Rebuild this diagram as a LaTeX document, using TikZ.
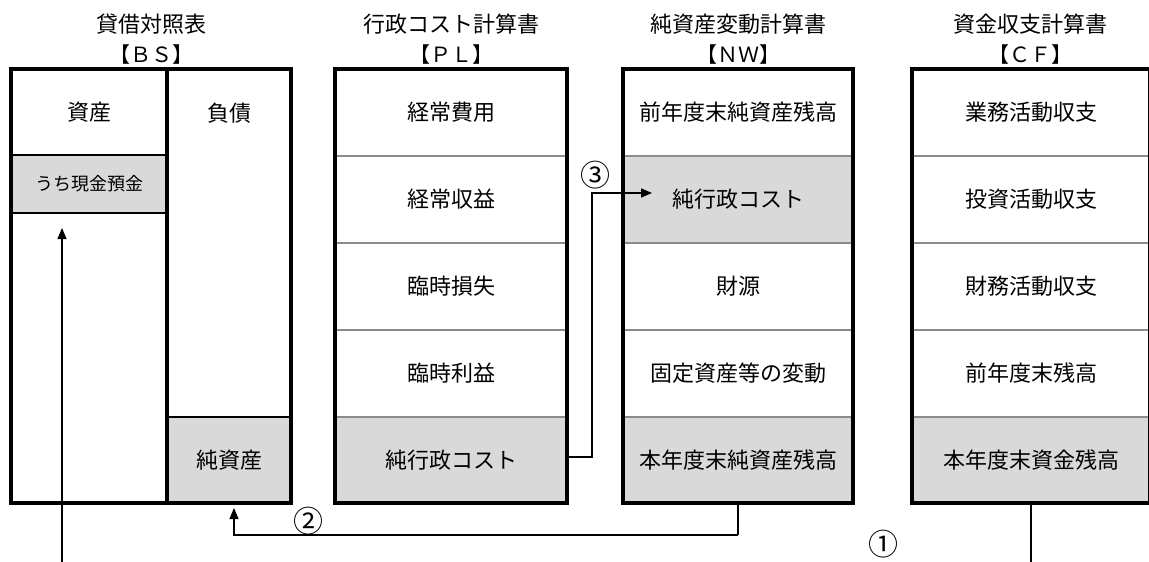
\documentclass[tikz,border=0pt]{standalone}
\usepackage{fontspec}
\setmainfont{Noto Sans CJK JP}
\usetikzlibrary{arrows.meta}
\definecolor{cellgray}{HTML}{D9D9D9}
\definecolor{divgray}{HTML}{8C8C8C}
\begin{document}
\begin{tikzpicture}[x=1pt,y=-1pt,
  cell/.style={inner sep=0pt, font=\fontsize{22}{26}\selectfont},
  shaded/.style={cell, fill=cellgray},
  frame/.style={draw=black, line width=3.8pt, inner sep=0pt},
  softdiv/.style={draw=divgray, line width=1.8pt},
  harddiv/.style={draw=black, line width=2.5pt},
  thickdiv/.style={draw=black, line width=3.8pt},
  title/.style={inner sep=0pt, font=\fontsize{22}{26}\selectfont},
  bracket/.style={inner sep=0pt, font=\fontsize{21}{24}\selectfont},
  conn/.style={draw=black, line width=1.3pt},
  tip/.style={-{Triangle[length=11pt,width=9pt]}},
  num/.style={inner sep=0pt, font=\fontsize{30}{34}\selectfont}]

\useasboundingbox (0,0) rectangle (1149,562);

% ---------- titles ----------
\node[title] (bst) at (151,24) {貸借対照表};
\node[bracket] (bsb) at (151,55) {【ＢＳ】};
\node[title] (plt) at (451,24) {行政コスト計算書};
\node[bracket] (plb) at (451,55) {【ＰＬ】};
\node[title] (nwt) at (738,24) {純資産変動計算書};
\node[bracket] (nwb) at (738,55) {【ＮＷ】};
\node[title] (cft) at (1030,24) {資金収支計算書};
\node[bracket] (cfb) at (1030,55) {【ＣＦ】};

% ---------- BS ----------
\node[cell, minimum width=156pt, minimum height=86pt] (bs1) at (89,112) {資産};
\node[shaded, minimum width=156pt, minimum height=58pt] (bs2) at (89,184) {\fontsize{18}{22}\selectfont うち現金預金};
\node[cell, minimum width=156pt, minimum height=290pt] (bs3) at (89,358) {};
\node[cell, minimum width=124pt, minimum height=348pt] (bs4) at (229,243) {};
\node[cell] (bs4t) at (229,113) {負債};
\node[shaded, minimum width=124pt, minimum height=86pt] (bs5) at (229,460) {純資産};
\draw[harddiv] (bs2.north west) -- (bs2.north east);
\draw[harddiv] (bs2.south west) -- (bs2.south east);
\draw[harddiv] (bs5.north west) -- (bs5.north east);
\node[frame, minimum width=280pt, minimum height=434pt] (bs) at (151,286) {};
\draw[thickdiv] (bs.north -| bs5.west) -- (bs.south -| bs5.west);

% ---------- PL ----------
\node[cell, minimum width=232pt, minimum height=87pt] (pl1) at (451,112.5) {経常費用};
\node[cell, minimum width=232pt, minimum height=87pt] (pl2) at (451,199.5) {経常収益};
\node[cell, minimum width=232pt, minimum height=87pt] (pl3) at (451,286.5) {臨時損失};
\node[cell, minimum width=232pt, minimum height=87pt] (pl4) at (451,373.5) {臨時利益};
\node[shaded, minimum width=232pt, minimum height=86pt] (pl5) at (451,460) {純行政コスト};
\draw[softdiv] (pl2.north west) -- (pl2.north east);
\draw[softdiv] (pl3.north west) -- (pl3.north east);
\draw[softdiv] (pl4.north west) -- (pl4.north east);
\draw[softdiv] (pl5.north west) -- (pl5.north east);
\node[frame, minimum width=232pt, minimum height=434pt] (pl) at (451,286) {};

% ---------- NW ----------
\node[cell, minimum width=230pt, minimum height=87pt] (nw1) at (738,112.5) {前年度末純資産残高};
\node[shaded, minimum width=230pt, minimum height=87pt] (nw2) at (738,199.5) {純行政コスト};
\node[cell, minimum width=230pt, minimum height=87pt] (nw3) at (738,286.5) {財源};
\node[cell, minimum width=230pt, minimum height=87pt] (nw4) at (738,373.5) {固定資産等の変動};
\node[shaded, minimum width=230pt, minimum height=86pt] (nw5) at (738,460) {本年度末純資産残高};
\draw[softdiv] (nw2.north west) -- (nw2.north east);
\draw[softdiv] (nw3.north west) -- (nw3.north east);
\draw[softdiv] (nw4.north west) -- (nw4.north east);
\draw[softdiv] (nw5.north west) -- (nw5.north east);
\node[frame, minimum width=230pt, minimum height=434pt] (nw) at (738,286) {};

% ---------- CF ----------
\node[cell, minimum width=238pt, minimum height=87pt] (cf1) at (1031,112.5) {業務活動収支};
\node[cell, minimum width=238pt, minimum height=87pt] (cf2) at (1031,199.5) {投資活動収支};
\node[cell, minimum width=238pt, minimum height=87pt] (cf3) at (1031,286.5) {財務活動収支};
\node[cell, minimum width=238pt, minimum height=87pt] (cf4) at (1031,373.5) {前年度末残高};
\node[shaded, minimum width=238pt, minimum height=86pt] (cf5) at (1031,460) {本年度末資金残高};
\draw[softdiv] (cf2.north west) -- (cf2.north east);
\draw[softdiv] (cf3.north west) -- (cf3.north east);
\draw[softdiv] (cf4.north west) -- (cf4.north east);
\draw[softdiv] (cf5.north west) -- (cf5.north east);
\node[frame, minimum width=238pt, minimum height=434pt] (cf) at (1031,286) {};

% ---------- connectors ----------
% (3) PL net cost -> NW net cost
\coordinate (c3bend) at (592,457);
\coordinate (c3tip) at (652,193);
\draw[conn,tip] (c3bend -| pl.east) -- (c3bend) |- (c3tip);
\node[num] (n3) at (595,175) {③};

% (2) NW closing balance -> BS net assets
\coordinate (c2low) at (738,535);
\coordinate (c2tip) at (234,508);
\draw[conn,line width=2pt] (nw.south) -- (c2low);
\draw[conn,tip] (c2low) -| (c2tip);
\node[num] (n2) at (308,521) {②};

% (1) CF closing cash -> BS cash
\coordinate (c1out) at (1031,575);
\draw[conn,line width=2pt] (cf.south) -- (c1out);
\coordinate (c1in) at (62,575);
\coordinate (c1tip) at (62,228);
\draw[conn,tip] (c1in) -- (c1tip);
\node[num] (n1) at (883,544) {①};
\end{tikzpicture}
\end{document}
